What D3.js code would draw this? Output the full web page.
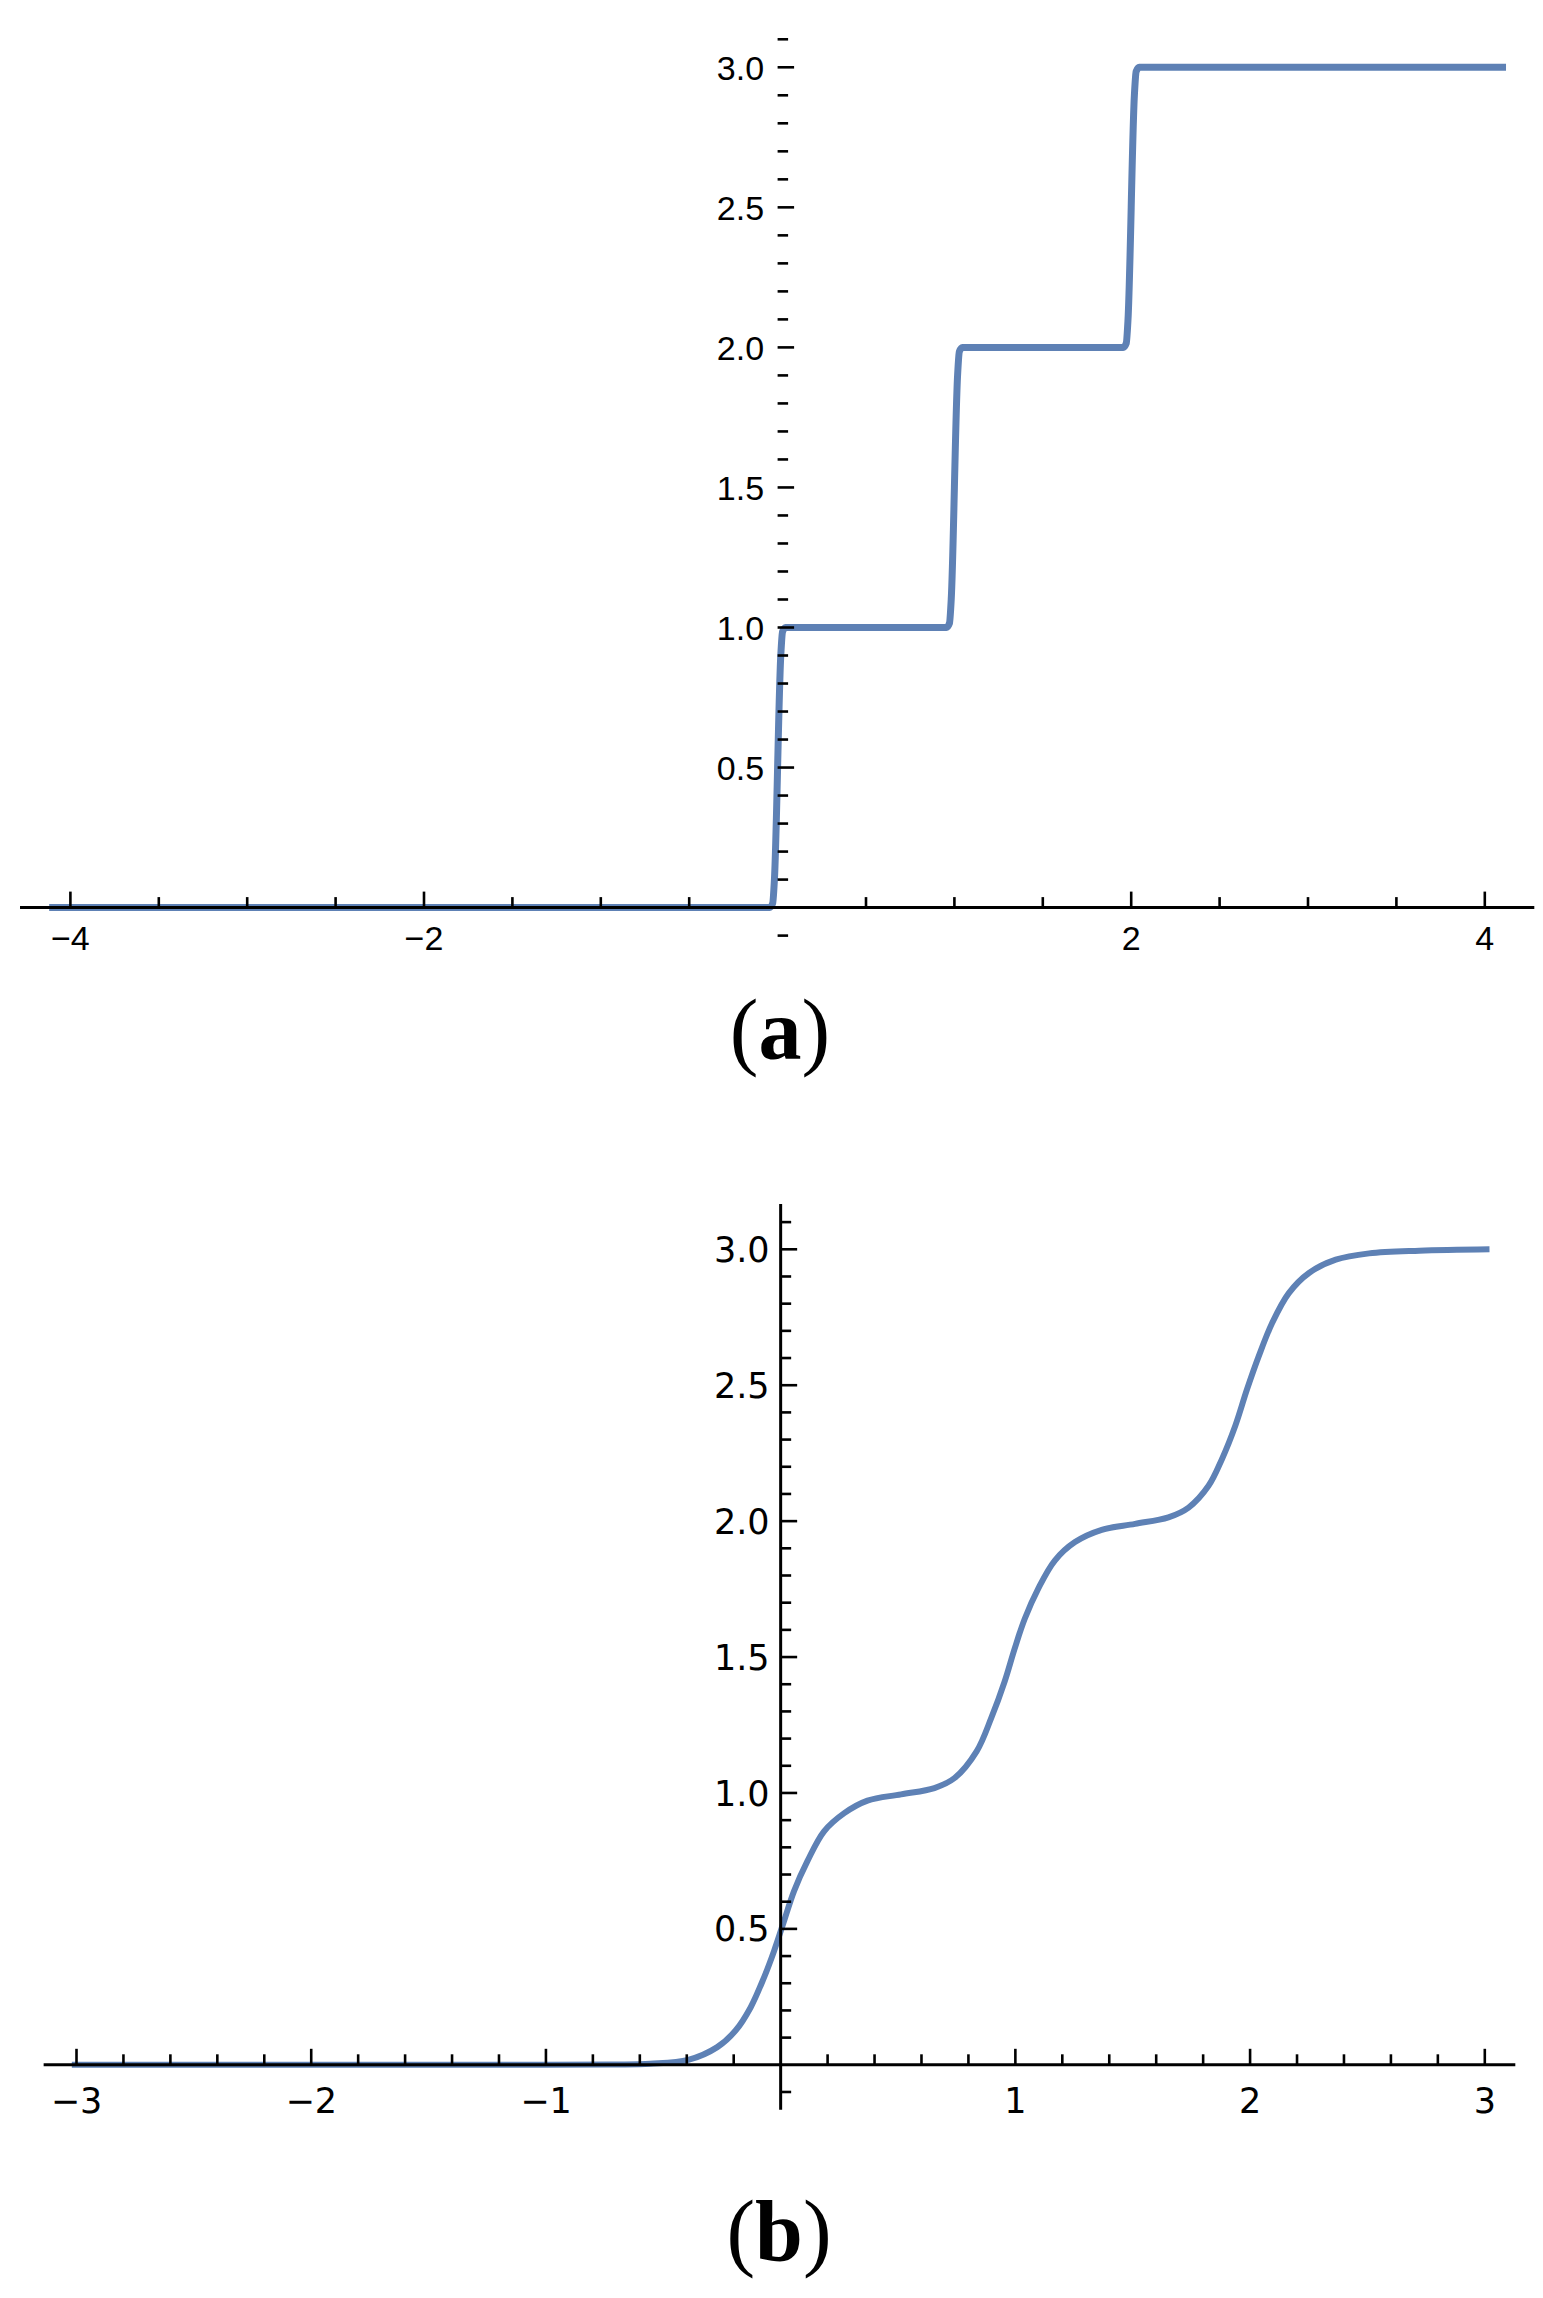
<!DOCTYPE html>
<html>
<head>
<meta charset="utf-8">
<script src="https://cdn.jsdelivr.net/npm/d3@7"></script>
<style>
  html, body { margin: 0; padding: 0; background: #fff; }
  svg { display: block; }
</style>
</head>
<body>
<svg id="chart" width="1543" height="2298"></svg>
<script>
// ---------- Data ----------
// Panel (a): near-discontinuous staircase
const stepX = [-4.12, -0.045, -0.028, -0.018, 0.018, 0.028, 0.045,
               0.955, 0.972, 0.982, 1.018, 1.028, 1.045,
               1.955, 1.972, 1.982, 2.018, 2.028, 2.045, 4.12];
const stepY = [0, 0, 0.015, 0.1, 0.9, 0.985, 1,
               1, 1.015, 1.1, 1.9, 1.985, 2,
               2, 2.015, 2.1, 2.9, 2.985, 3, 3];

// Panel (b): smooth staircase
const smoothX = [-3.02, -1.0, -0.7, -0.556, -0.394, -0.27, -0.192, -0.128, -0.071, -0.028,
                 0.01, 0.057, 0.114, 0.185, 0.271, 0.37, 0.513, 0.655, 0.741, 0.835,
                 0.897, 0.954, 0.997, 1.04, 1.097, 1.168, 1.254, 1.368, 1.51, 1.652,
                 1.738, 1.823, 1.88, 1.937, 1.987, 2.037, 2.094, 2.165, 2.251, 2.365,
                 2.507, 2.721, 3.02];
const smoothY = [0, 0, 0.001, 0.004, 0.018, 0.065, 0.126, 0.211, 0.321, 0.419,
                 0.517, 0.639, 0.749, 0.859, 0.926, 0.972, 0.995, 1.018, 1.055, 1.153,
                 1.275, 1.409, 1.531, 1.641, 1.751, 1.855, 1.923, 1.968, 1.99, 2.014,
                 2.05, 2.13, 2.228, 2.351, 2.485, 2.607, 2.729, 2.839, 2.913, 2.962,
                 2.985, 2.995, 3.0];

// Tick labels
const aXLabels = [-4, -2, 2, 4];
const aYLabels = [0.5, 1.0, 1.5, 2.0, 2.5, 3.0];
const bXLabels = [-3, -2, -1, 1, 2, 3];
const bYLabels = [0.5, 1.0, 1.5, 2.0, 2.5, 3.0];
const panelTitles = ["a", "b"];

// ---------- Drawing ----------
const svg = d3.select("#chart");
const lineColor = "#5e81b5";
const fmtX = d => (d < 0 ? "\u2212" + Math.abs(d) : String(d));
const fmtY = d => d.toFixed(1);

function drawPanel(cfg) {
  const g = svg.append("g");
  const x = d3.scaleLinear().domain([-cfg.xUnit, cfg.xUnit]).range(cfg.xRange);
  const y = d3.scaleLinear().domain([0, 3]).range(cfg.yRange);

  // curve
  const pts = cfg.xs.map((v, i) => [v, cfg.ys[i]]);
  g.append("path")
    .datum(pts)
    .attr("fill", "none")
    .attr("stroke", lineColor)
    .attr("stroke-width", cfg.lineWidth)
    .attr("stroke-linejoin", "round")
    .attr("d", d3.line().x(d => x(d[0])).y(d => y(d[1])).curve(cfg.curve));

  const ax = g.append("g").attr("stroke", "#000");

  // x axis line
  ax.append("line")
    .attr("x1", x(cfg.xExtent[0])).attr("x2", x(cfg.xExtent[1]))
    .attr("y1", y(0)).attr("y2", y(0))
    .attr("stroke-width", 3);

  // y axis line (only panel b)
  if (cfg.yAxisLine) {
    ax.append("line")
      .attr("x1", x(0)).attr("x2", x(0))
      .attr("y1", y(cfg.yExtent[0])).attr("y2", y(cfg.yExtent[1]))
      .attr("stroke-width", 3);
  }

  // x ticks
  cfg.xTicks.forEach(t => {
    const major = cfg.xMajor(t);
    ax.append("line")
      .attr("x1", x(t)).attr("x2", x(t))
      .attr("y1", y(0)).attr("y2", y(0) - (major ? 16 : 10.5))
      .attr("stroke-width", 2.6);
  });
  // y ticks
  cfg.yTicks.forEach(t => {
    const major = Math.abs(t * 2 - Math.round(t * 2)) < 1e-6;
    ax.append("line")
      .attr("x1", x(0)).attr("x2", x(0) + (major ? 16.5 : 10.5))
      .attr("y1", y(t)).attr("y2", y(t))
      .attr("stroke-width", 2.6);
  });

  // labels
  const lab = g.append("g").attr("font-family", cfg.font).attr("font-size", cfg.fontSize).attr("fill", "#000");
  cfg.xLabels.forEach(t => {
    lab.append("text")
      .attr("x", x(t)).attr("y", y(0) + cfg.xLabelDy)
      .attr("text-anchor", "middle")
      .text(fmtX(t));
  });
  cfg.yLabels.forEach(t => {
    lab.append("text")
      .attr("x", x(0) - cfg.yLabelDx).attr("y", y(t))
      .attr("dy", "0.36em")
      .attr("text-anchor", "end")
      .text(fmtY(t));
  });

  // panel title
  const tt = g.append("text")
    .attr("x", cfg.titleX).attr("y", cfg.titleY)
    .attr("text-anchor", "middle")
    .attr("font-family", "'Liberation Serif', 'DejaVu Serif', serif")
    .attr("font-size", 86)
    .attr("fill", "#000");
  tt.append("tspan").text("(");
  tt.append("tspan").attr("font-weight", "bold").text(cfg.title);
  tt.append("tspan").text(")");
}

const tickRange = (a, b, s) => d3.range(Math.round(a / s), Math.round(b / s) + 1).map(k => +(k * s).toFixed(4));

drawPanel({
  xs: stepX, ys: stepY,
  xUnit: 4, xRange: [70.4, 1484.8],
  yRange: [907.6, 67.3],
  xExtent: [-4.285, 4.28],
  yAxisLine: false,
  xTicks: tickRange(-4, 4, 0.5).filter(t => t !== 0),
  xMajor: t => Math.abs(t % 2) < 1e-6,
  yTicks: tickRange(-0.1, 3.1, 0.1).filter(t => t !== 0),
  xLabels: aXLabels, yLabels: aYLabels,
  font: "'Liberation Sans', Arial, sans-serif", fontSize: 34,
  xLabelDy: 42.5, yLabelDx: 13.5,
  lineWidth: 7,
  curve: d3.curveMonotoneX,
  title: panelTitles[0], titleX: 780, titleY: 1059
});

drawPanel({
  xs: smoothX, ys: smoothY,
  xUnit: 3, xRange: [76.5, 1484.8],
  yRange: [2064.8, 1249.3],
  xExtent: [-3.14, 3.13],
  yExtent: [-0.165, 3.167],
  yAxisLine: true,
  xTicks: tickRange(-3, 3, 0.2).filter(t => t !== 0),
  xMajor: t => Math.abs(t - Math.round(t)) < 1e-6,
  yTicks: tickRange(-0.1, 3.1, 0.1).filter(t => t !== 0),
  xLabels: bXLabels, yLabels: bYLabels,
  font: "'DejaVu Sans', sans-serif", fontSize: 35,
  xLabelDy: 48, yLabelDx: 11,
  lineWidth: 6,
  curve: d3.curveCatmullRom.alpha(0.5),
  title: panelTitles[1], titleX: 779, titleY: 2260
});
</script>
</body>
</html>
